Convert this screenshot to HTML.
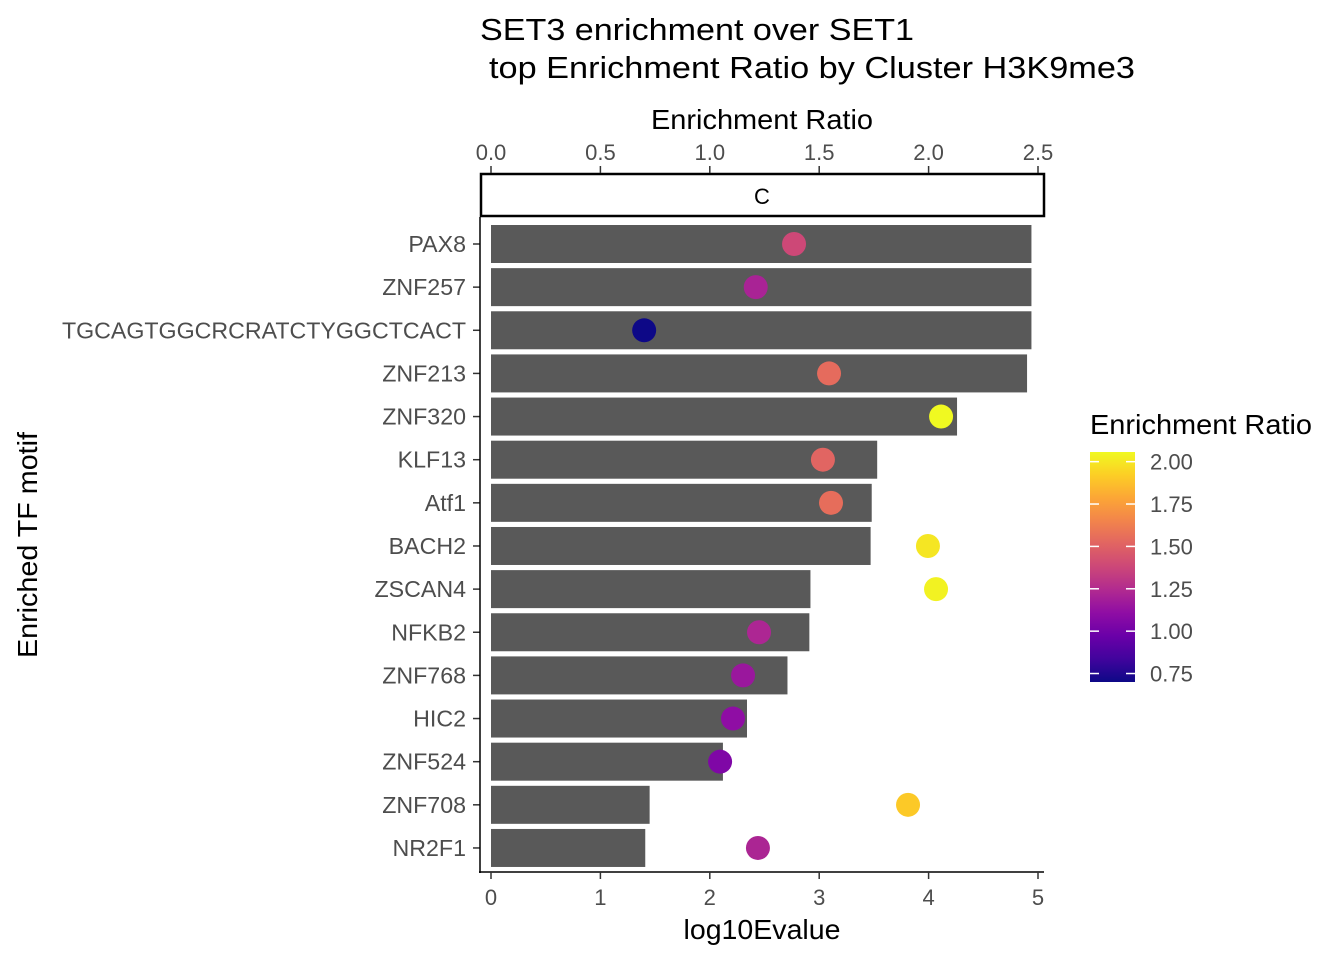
<!DOCTYPE html>
<html><head><meta charset="utf-8"><style>
body{margin:0;background:#fff;}
svg text{font-family:"Liberation Sans",Arial,sans-serif;}
</style></head><body>
<svg id="chart" width="1344" height="960" viewBox="0 0 1344 960" xmlns="http://www.w3.org/2000/svg">
<defs><linearGradient id="cg" x1="0" y1="1" x2="0" y2="0"></linearGradient></defs>
<text x="480" y="40" font-size="31" textLength="434" lengthAdjust="spacingAndGlyphs">SET3 enrichment over SET1</text>
<text x="489" y="78" font-size="31" textLength="646" lengthAdjust="spacingAndGlyphs">top Enrichment Ratio by Cluster H3K9me3</text>
<rect x="481" y="174" width="563" height="42" fill="#fff" stroke="#000" stroke-width="2.5"/>
<text x="762" y="204" font-size="22" text-anchor="middle">C</text>
<g id="bars"></g><g id="pts"></g><g id="axes"></g>
<text x="762" y="129" font-size="28" textLength="222" lengthAdjust="spacingAndGlyphs" text-anchor="middle">Enrichment Ratio</text>
<text x="762" y="939" font-size="28" textLength="157" lengthAdjust="spacingAndGlyphs" text-anchor="middle">log10Evalue</text>
<text transform="translate(37,545) rotate(-90)" font-size="28" textLength="226" lengthAdjust="spacingAndGlyphs" text-anchor="middle">Enriched TF motif</text>
<text x="1090" y="434" font-size="28" textLength="222" lengthAdjust="spacingAndGlyphs">Enrichment Ratio</text>
<rect x="1090" y="452" width="45" height="230" fill="url(#cg)"/>
<g id="legend"></g>
</svg>
<script>
const motifs=["PAX8","ZNF257","TGCAGTGGCRCRATCTYGGCTCACT","ZNF213","ZNF320","KLF13","Atf1","BACH2","ZSCAN4","NFKB2","ZNF768","HIC2","ZNF524","ZNF708","NR2F1"];
const log10Evalue=[4.94,4.94,4.94,4.90,4.26,3.53,3.48,3.47,2.92,2.91,2.71,2.34,2.12,1.45,1.41];
const enrichment=[1.385,1.21,0.70,1.545,2.057,1.517,1.554,1.997,2.034,1.225,1.152,1.106,1.047,1.906,1.22];
const bottomTicks=[0,1,2,3,4,5];
const topTicks=["0.0","0.5","1.0","1.5","2.0","2.5"];
const legendTicks=["0.75","1.00","1.25","1.50","1.75","2.00"];
const NS="http://www.w3.org/2000/svg";
function mk(t,a,p){const e=document.createElementNS(NS,t);for(const k in a)e.setAttribute(k,a[k]);p.appendChild(e);return e;}
const xB=v=>491+v*109.4, xT=v=>491+v*218.8, yR=i=>244+i*43.14;
const cmin=0.70,cmax=2.057, yC=v=>682-(v-cmin)/(cmax-cmin)*230;
const stops=["#0d0887","#41049d","#6a00a8","#8f0da4","#b12a90","#cc4778","#e16462","#f2844b","#fca636","#fcce25","#f0f921"];
function hx(h){return [1,3,5].map(i=>parseInt(h.substr(i,2),16));}
function plasma(t){t=Math.max(0,Math.min(1,t))*10;const i=Math.min(9,Math.floor(t)),f=t-i,a=hx(stops[i]),b=hx(stops[i+1]);return "rgb("+a.map((v,k)=>Math.round(v+(b[k]-v)*f)).join(",")+")";}
const g=document.getElementById("cg");
stops.forEach((s,i)=>{mk("stop",{offset:i/10,"stop-color":s},g);});
const bars=document.getElementById("bars"),pts=document.getElementById("pts"),ax=document.getElementById("axes"),lg=document.getElementById("legend");
motifs.forEach((m,i)=>{
 const r=mk("rect",{x:xB(0),y:yR(i)-19,width:xB(log10Evalue[i])-xB(0),height:38,fill:"#595959"},bars);
 
 
 const c=mk("circle",{cx:xT(enrichment[i]),cy:yR(i),r:12,fill:plasma((enrichment[i]-cmin)/(cmax-cmin))},pts);
 
 
 const t=mk("text",{x:466,y:yR(i)+8,"font-size":23.2,"text-anchor":"end",fill:"#4d4d4d"},ax);t.textContent=m;
 
 
 const tk=mk("line",{x1:473,x2:480,y1:yR(i),y2:yR(i),stroke:"#333","stroke-width":1.5},ax);
 
 
});
const la=mk("line",{x1:480,x2:480,y1:217,y2:873,stroke:"#000","stroke-width":1.5},ax);


const ba=mk("line",{x1:479,x2:1044,y1:872,y2:872,stroke:"#000","stroke-width":1.5},ax);


bottomTicks.forEach(v=>{
 const l=mk("line",{x1:xB(v),x2:xB(v),y1:872,y2:879,stroke:"#333","stroke-width":1.5},ax);
 
 
 const t=mk("text",{x:xB(v),y:905,"font-size":22,"text-anchor":"middle",fill:"#4d4d4d"},ax);t.textContent=v;
 
 
});
topTicks.forEach(v=>{
 const x=xT(parseFloat(v));
 const l=mk("line",{x1:x,x2:x,y1:166,y2:173,stroke:"#333","stroke-width":1.5},ax);
 
 
 const t=mk("text",{x:x,y:160,"font-size":22,"text-anchor":"middle",fill:"#4d4d4d"},ax);t.textContent=v;
 
 
});
legendTicks.forEach(v=>{
 const y=yC(parseFloat(v));
 const l1=mk("line",{x1:1090,x2:1099,y1:y,y2:y,stroke:"#fff","stroke-width":1.5},lg);
 
 
 const l2=mk("line",{x1:1126,x2:1135,y1:y,y2:y,stroke:"#fff","stroke-width":1.5},lg);
 
 
 const t=mk("text",{x:1150,y:y+8,"font-size":22,fill:"#4d4d4d"},lg);t.textContent=v;
 
 
});
</script>
</body></html>
